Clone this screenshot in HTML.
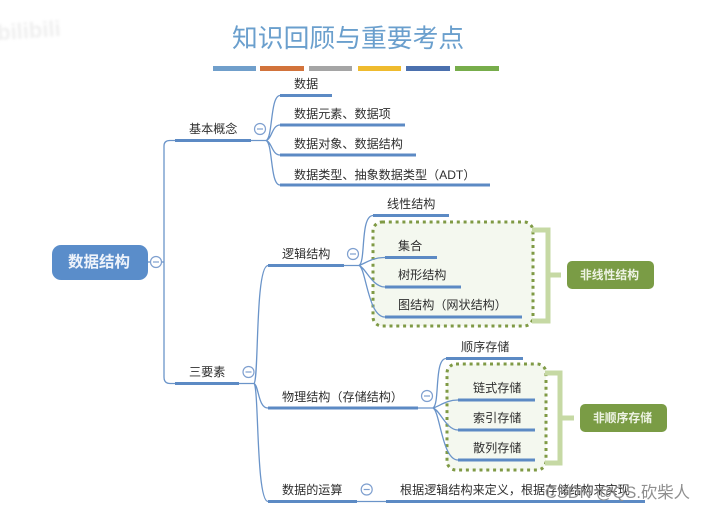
<!DOCTYPE html>
<html><head><meta charset="utf-8">
<style>
html,body{margin:0;padding:0;background:#fff;width:706px;height:511px;overflow:hidden}
svg{display:block}
text{font-family:"Liberation Sans","Noto Sans CJK SC",sans-serif;fill:#2e2e2e;font-size:12.1px}
.l{fill:none;stroke:#6b94c9;stroke-width:1.3}
.b{stroke:#5b8ac4;stroke-width:3;fill:none}
.c{fill:#fff;stroke:#7e9fcf;stroke-width:1.2}
.m{stroke:#7e9fcf;stroke-width:1.2}
.d{fill:#f4f8ef;stroke:#7f9a45;stroke-width:3;stroke-dasharray:3 3.8}
.k{fill:none;stroke:#c6d9a4;stroke-width:5}
</style></head><body>
<svg width="706" height="511" viewBox="0 0 706 511" xmlns="http://www.w3.org/2000/svg">
<defs><filter id="s" x="-5%" y="-5%" width="110%" height="110%"><feGaussianBlur stdDeviation="0.35"/></filter>
<filter id="w"><feGaussianBlur stdDeviation="1.2"/></filter></defs>
<rect width="706" height="511" fill="#fff"/>
<text x="-3" y="38" filter="url(#w)" style="font-size:22px;font-weight:bold;fill:#efefef" transform="rotate(-4 30 30)">bilibili</text>
<g filter="url(#s)">
<text x="232" y="47" style="font-size:25.800px;fill:#6b9fcd">知识回顾与重要考点</text>
<rect x="213" y="66" width="43" height="5" fill="#6f9fcb"/>
<rect x="260" y="66" width="44" height="5" fill="#d2733a"/>
<rect x="309" y="66" width="43" height="5" fill="#a5a5a5"/>
<rect x="358" y="66" width="43" height="5" fill="#efbb2d"/>
<rect x="406" y="66" width="44" height="5" fill="#4b6fae"/>
<rect x="455" y="66" width="44" height="5" fill="#77ad4c"/>

<!-- dotted groups -->
<rect x="373" y="222" width="160" height="104" rx="9" class="d"/>
<rect x="447" y="364" width="99" height="106" rx="9" class="d"/>
<path class="k" d="M532 230H548V321H532M548 275H561"/>
<path class="k" d="M545 373H560V463H545M560 418H574"/>

<!-- connectors -->
<path class="l" d="M175 140.500H170Q164 140.500 164 146V377Q164 383.500 170 383.500H175"/>
<path class="l" d="M148 262H164"/>
<path class="l" d="M251 140.500H266M266 140.500C273 138 270 96 280 95.500M266 140.500C272 139 272 125 280 125M266 140.500C272 142 272 155 280 155M266 140.500C273 143 270 185 280 185"/>
<path class="l" d="M239 383.500H254M254 383.500C259 380 255 266 268 265.500M254 383.500C259 386 258 408 268 408M254 383.500C259 388 256 501 268 501.500"/>
<path class="l" d="M344 265.500H359M359 265.500C366 262 360 216 373 215.500M359 265.500C366 263 372 257.500 385 257.500M359 265.500C366 268 372 287 385 287M359 265.500C366 268 368 317 385 317"/>
<path class="l" d="M418 408H433M433 408C440 404 434 359 446 358.500M433 408C440 406 446 400 458 400M433 408C440 410 446 430 458 430M433 408C440 411 442 460 458 460"/>
<path class="l" d="M357 501.500H386"/>

<!-- root -->
<rect x="52" y="245" width="96" height="35" rx="9" fill="#5a8dca"/>
<text x="68" y="267" style="font-size:15.500px;font-weight:bold;fill:#eef3fa">数据结构</text>

<!-- bars -->
<path class="b" d="M280 95.500H332M280 125H405M280 155H416M280 185H490M175 140.500H251M175 383.500H239M268 265.500H344M268 408H418M268 501.500H357M386 501.500H645M373 215.500H449M385 257.500H437M385 287H461M385 317H522M446 358.500H523M458 400H535M458 430H535M458 460H535"/>

<!-- labels -->
<text x="294" y="88">数据</text>
<text x="294" y="118">数据元素、数据项</text>
<text x="294" y="148">数据对象、数据结构</text>
<text x="294" y="179">数据类型、抽象数据类型（ADT）</text>
<text x="189" y="133">基本概念</text>
<text x="189" y="376">三要素</text>
<text x="282" y="258">逻辑结构</text>
<text x="282" y="401">物理结构（存储结构）</text>
<text x="282" y="494">数据的运算</text>
<text x="400" y="494">根据逻辑结构来定义，根据存储结构来实现</text>
<text x="387" y="208">线性结构</text>
<text x="398" y="250">集合</text>
<text x="398" y="279">树形结构</text>
<text x="398" y="309">图结构（网状结构）</text>
<text x="461" y="351">顺序存储</text>
<text x="473" y="392">链式存储</text>
<text x="473" y="422">索引存储</text>
<text x="473" y="452">散列存储</text>

<!-- collapse -->
<g>
<circle cx="156" cy="262" r="5.500" class="c"/><path class="m" d="M153 262H159"/>
<circle cx="260" cy="129" r="5.500" class="c"/><path class="m" d="M257 129H263"/>
<circle cx="248.500" cy="372" r="5.500" class="c"/><path class="m" d="M245.500 372H251.500"/>
<circle cx="353" cy="254" r="5.500" class="c"/><path class="m" d="M350 254H356"/>
<circle cx="427" cy="396" r="5.500" class="c"/><path class="m" d="M424 396H430"/>
<circle cx="366.700" cy="489.500" r="5.500" class="c"/><path class="m" d="M363.700 489.500H369.700"/>
</g>

<!-- tag boxes -->
<rect x="567" y="261" width="87" height="28" rx="5" fill="#7a9c45"/>
<text x="580" y="279" style="font-size:11.800px;font-weight:bold;fill:#eef3e4">非线性结构</text>
<rect x="580" y="404" width="87" height="28" rx="5" fill="#7a9c45"/>
<text x="593" y="422" style="font-size:11.800px;font-weight:bold;fill:#eef3e4">非顺序存储</text>

<text x="545" y="498" style="font-size:16.400px;fill:#8f8f8f">CSDN @QS.砍柴人</text>
</g>
</svg>
</body></html>
